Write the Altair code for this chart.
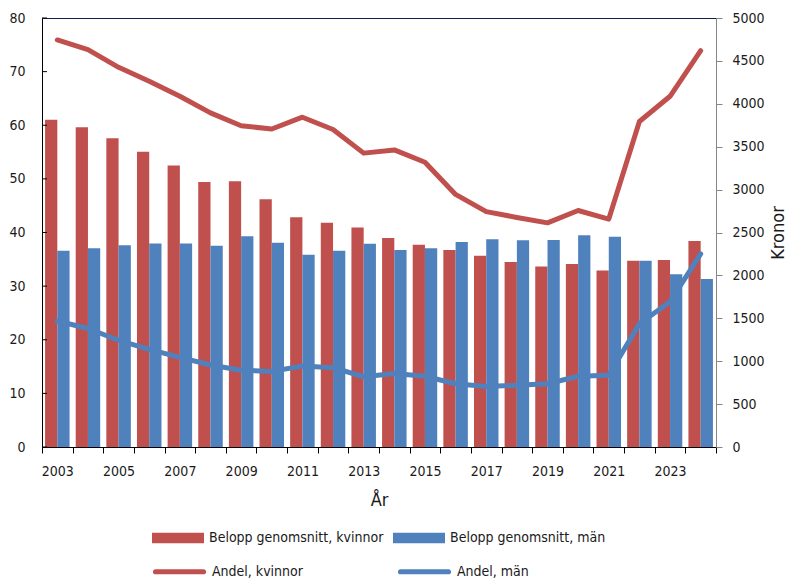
import altair as alt
import pandas as pd

years = [str(y) for y in range(2003, 2025)]
belopp_kvinnor = [3813, 3727, 3599, 3440, 3280, 3090, 3098, 2887, 2677, 2615, 2557,
                  2436, 2358, 2296, 2230, 2156, 2105, 2132, 2058, 2171, 2179, 2401]
belopp_man = [2288, 2315, 2350, 2373, 2373, 2346, 2455, 2381, 2241, 2288, 2369,
              2296, 2315, 2389, 2420, 2409, 2412, 2467, 2451, 2171, 2012, 1957]
andel_kvinnor = [75.9, 74.1, 70.8, 68.2, 65.4, 62.3, 59.9, 59.3, 61.5, 59.2, 54.8,
                 55.4, 53.1, 47.1, 43.9, 42.8, 41.8, 44.1, 42.5, 60.7, 65.4, 73.9]
andel_man = [23.5, 22.1, 19.9, 18.2, 16.7, 15.3, 14.3, 14.1, 15.1, 14.8, 13.1,
             13.7, 13.2, 11.8, 11.3, 11.5, 11.8, 13.2, 13.4, 23.0, 27.1, 36.0]
left_ticks = [0, 10, 20, 30, 40, 50, 60, 70, 80]
right_ticks = [0, 500, 1000, 1500, 2000, 2500, 3000, 3500, 4000, 4500, 5000]

bar_series = ["Belopp genomsnitt, kvinnor", "Belopp genomsnitt, män"]
line_series = ["Andel, kvinnor", "Andel, män"]
RED = "#C0504D"
BLUE = "#4F81BD"
FONT = "DejaVu Sans Condensed, Liberation Sans, sans-serif"
FS = 14

bars_df = pd.DataFrame(
    [{"År": y, "serie": bar_series[0], "kr": v} for y, v in zip(years, belopp_kvinnor)]
    + [{"År": y, "serie": bar_series[1], "kr": v} for y, v in zip(years, belopp_man)]
)
lines_df = pd.DataFrame(
    [{"År": y, "linje": line_series[0], "andel": v} for y, v in zip(years, andel_kvinnor)]
    + [{"År": y, "linje": line_series[1], "andel": v} for y, v in zip(years, andel_man)]
)
ticks_df = pd.DataFrame({"t": left_ticks})

x_enc = alt.X(
    "År:N",
    sort=years,
    scale=alt.Scale(paddingInner=0, paddingOuter=0),
    axis=alt.Axis(
        title="År",
        tickBand="extent",
        labelAngle=0,
        labelExpr="toNumber(datum.value) % 2 == 1 ? datum.label : ''",
        tickSize=6,
        tickColor="#000000",
        domainColor="#000000",
        labelPadding=11,
        titlePadding=13,
        titleFontSize=18,
        titleFontWeight="normal",
    ),
)

bars = alt.Chart(bars_df).mark_bar().encode(
    x=x_enc,
    xOffset=alt.XOffset("serie:N", sort=bar_series,
                        scale=alt.Scale(paddingInner=0, paddingOuter=0.25)),
    y=alt.Y(
        "kr:Q",
        scale=alt.Scale(domain=[0, 5000], nice=False),
        axis=alt.Axis(
            orient="right",
            title="Kronor",
            values=right_ticks,
            format="d",
            titleAngle=270,
            titleBaseline="top",
            titleFontSize=18,
            titleFontWeight="normal",
            titlePadding=5,
            tickSize=6,
            tickColor="#868686",
            domainColor="#868686",
            labelPadding=10,
            grid=False,
        ),
    ),
    color=alt.Color(
        "serie:N",
        sort=bar_series,
        scale=alt.Scale(domain=bar_series, range=[RED, BLUE]),
        legend=alt.Legend(
            title=None,
            orient="none",
            legendX=110,
            legendY=494,
            direction="horizontal",
            columns=2,
            columnPadding=9,
            symbolType="M-1,-0.2H1V0.2H-1Z",
            symbolSize=2704,
            symbolStrokeWidth=0,
            labelOffset=5,
        ),
    ),
)

lines = alt.Chart(lines_df).mark_line(strokeWidth=5, strokeCap="round", strokeJoin="round").encode(
    x=alt.X("År:N", sort=years),
    y=alt.Y(
        "andel:Q",
        scale=alt.Scale(domain=[0, 80], nice=False),
        axis=alt.Axis(
            orient="left",
            title=None,
            values=left_ticks,
            tickSize=0,
            labelPadding=17,
            domainColor="#000000",
            grid=False,
        ),
    ),
    color=alt.Color(
        "linje:N",
        sort=line_series,
        scale=alt.Scale(domain=line_series, range=[RED, BLUE]),
        legend=alt.Legend(
            title=None,
            orient="none",
            legendX=110,
            legendY=526,
            direction="horizontal",
            columns=2,
            columnPadding=91,
            symbolType="M-0.92,-0.05H0.92A0.05,0.05 0 0 1 0.92,0.05H-0.92A0.05,0.05 0 0 1 -0.92,-0.05Z",
            symbolSize=2704,
            symbolStrokeWidth=2.6,
            labelOffset=5,
        ),
    ),
)

inner_ticks = alt.Chart(ticks_df).mark_rule(color="#000000", strokeWidth=1).encode(
    x=alt.value(0),
    x2=alt.value(5),
    y=alt.Y("t:Q", scale=alt.Scale(domain=[0, 80], nice=False), axis=None),
)

chart = (
    alt.layer(bars, lines, inner_ticks)
    .resolve_scale(y="independent", color="independent")
    .properties(
        width=674,
        height=429,
        autosize=alt.AutoSizeParams(type="none"),
        padding={"left": 34, "top": 10, "right": 71, "bottom": 131},
    )
    .configure(font=FONT)
    .configure_view(stroke="#0d1f4f", strokeWidth=1)
    .configure_axis(
        labelFont=FONT,
        titleFont=FONT,
        labelFontSize=FS,
        labelColor="#1a1a1a",
        titleColor="#1a1a1a",
    )
    .configure_legend(
        labelFont=FONT,
        labelFontSize=FS,
        labelColor="#1a1a1a",
        padding=0,
        labelLimit=400,
    )
)

chart.save("out.html", embed_options={"renderer": "svg", "actions": False})
